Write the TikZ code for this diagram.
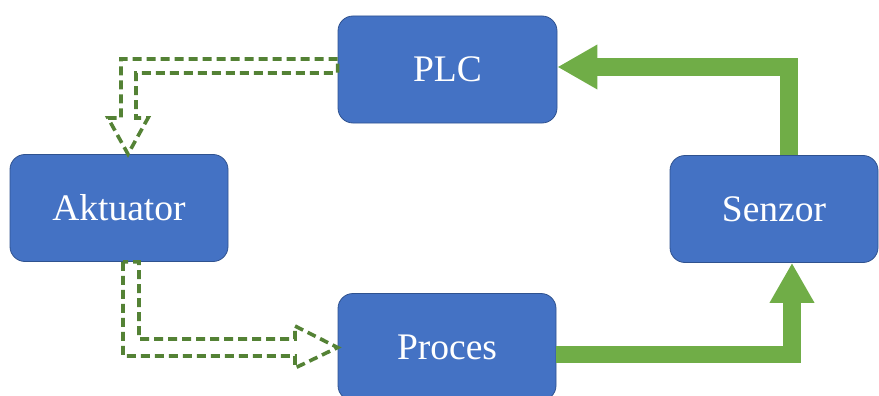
\documentclass[tikz,border=0pt]{standalone}
\usepackage{fontspec}
\setmainfont{Liberation Serif}
\usepackage{tikz}
\usetikzlibrary{arrows.meta}

\definecolor{boxblue}{HTML}{4472C4}
\definecolor{boxedge}{HTML}{2F528F}
\definecolor{flowgreen}{HTML}{70AD47}
\definecolor{dashgreen}{HTML}{548235}

\begin{document}
\begin{tikzpicture}[x=1pt,y=-1pt,
    block/.style={rectangle,rounded corners=15pt,draw=boxedge,line width=0.8pt,fill=boxblue,
        text=white,font=\fontsize{37.5}{42}\selectfont,minimum height=107pt},
    flow/.style={draw=flowgreen,line width=17.5pt,line join=miter,
        -{Triangle[length=40pt,width=42pt]}},
    hollow/.style={draw=dashgreen,line width=3.6pt,dash pattern=on 9pt off 5pt,line join=miter}]
    \useasboundingbox (0,0) rectangle (879,396);

    \node at (447.5,69.5) [block,minimum width=219pt] (plc) {PLC};
    \node at (119,208) [block,minimum width=218pt] (akt) {Aktuator};
    \node at (774,209) [block,minimum width=208pt] (sen) {Senzor};
    \node at (447,347) [block,minimum width=218pt] (pro) {Proces};

    % solid arrows
    \draw[flow] (sen.north -| 789,0) |- (plc.east |- 0,67);
    \draw[flow] (pro.east |- 0,354.5) -| (sen.south -| 792,0);

    % dashed hollow arrows
    \draw[hollow] (plc.west |- 0,59) -- (121,59) -- (121,118) -- (108,118) -- (akt.north -| 128,0)
        -- (148,118) -- (136,118) -- (136,73) -- (plc.west |- 0,73) -- cycle;
    \draw[hollow] (akt.south -| 123,0) -- (123,356) -- (295,356) -- (295,368) -- (pro.west |- 0,347.5)
        -- (295,326) -- (295,339) -- (139,339) -- (akt.south -| 139,0) -- cycle;
\end{tikzpicture}
\end{document}
